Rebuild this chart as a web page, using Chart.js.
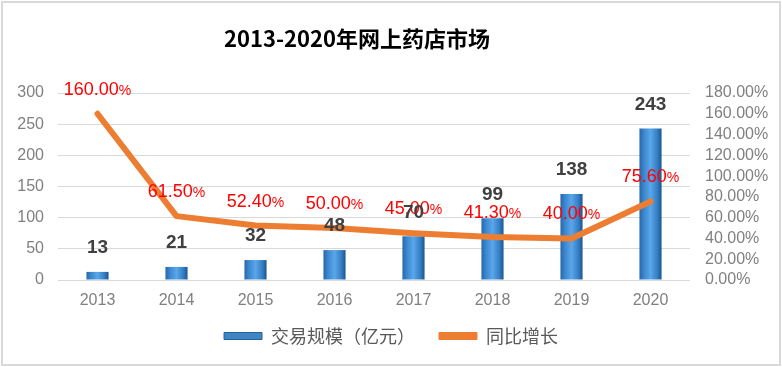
<!DOCTYPE html>
<html>
<head>
<meta charset="utf-8">
<script src="https://cdn.jsdelivr.net/npm/chart.js@4.4.0/dist/chart.umd.min.js"></script>
<style>
html,body{margin:0;padding:0;background:#fff;}
#wrap{position:relative;width:782px;height:367px;}
</style>
</head>
<body>
<div id="wrap"><canvas id="c" width="782" height="367"></canvas></div>
<script>
const TITLE = '2013-2020年网上药店市场';
const years = ['2013','2014','2015','2016','2017','2018','2019','2020'];
const tradeScale = [13, 21, 32, 48, 70, 99, 138, 243];
const yoyGrowth = [160.0, 61.5, 52.4, 50.0, 45.0, 41.3, 40.0, 75.6];
const leftTicks = {min: 0, max: 300, step: 50};
const rightTicks = {min: 0, max: 180, step: 20};
const barName = '交易规模（亿元）';
const lineName = '同比增长';

const CJK = '"Noto Sans CJK SC", "Liberation Sans", sans-serif';
const LAT = '"Liberation Sans", Arial, sans-serif';

function barFill(ctx) {
  const chart = ctx.chart;
  const xs = chart.scales && chart.scales.x;
  if (!xs || ctx.dataIndex === undefined || !chart.chartArea) return '#3b86cc';
  const cx = xs.getPixelForValue(ctx.dataIndex);
  const w = (xs.width / years.length) * 0.28;
  const g = chart.ctx.createLinearGradient(cx - w / 2, 0, cx + w / 2, 0);
  g.addColorStop(0, '#2767a8');
  g.addColorStop(0.2, '#3a87d0');
  g.addColorStop(0.5, '#5aa6e8');
  g.addColorStop(0.8, '#3580c6');
  g.addColorStop(1, '#1c5590');
  return g;
}

const framePlugin = {
  id: 'frame',
  beforeDraw(chart) {
    const c = chart.ctx;
    c.save();
    c.fillStyle = '#fff';
    c.fillRect(0, 0, chart.width, chart.height);
    c.strokeStyle = '#d9d9d9';
    c.lineWidth = 2;
    c.strokeRect(2, 2, chart.width - 4, chart.height - 4);
    c.fillStyle = '#000';
    c.font = 'bold 22px ' + CJK;
    c.textAlign = 'center';
    c.textBaseline = 'middle';
    c.fillText(TITLE, 357, 39);
    c.restore();
  }
};

const labelPlugin = {
  id: 'vlabels',
  afterDatasetsDraw(chart) {
    const c = chart.ctx;
    c.save();
    chart.data.datasets.forEach((ds, di) => {
      const meta = chart.getDatasetMeta(di);
      meta.data.forEach((el, i) => {
        const v = ds.data[i];
        if (ds.type === 'bar') {
          c.font = 'bold 19px ' + LAT;
          c.fillStyle = '#404040';
          c.textAlign = 'center';
          c.textBaseline = 'middle';
          c.fillText(String(v), el.x, el.y - 24);
        } else {
          const num = v.toFixed(2);
          c.textBaseline = 'alphabetic';
          c.font = '18px ' + LAT;
          const w1 = c.measureText(num).width;
          c.font = '14px ' + LAT;
          const w2 = c.measureText('%').width;
          const x0 = el.x - (w1 + w2) / 2;
          const yb = el.y - 19;
          c.fillStyle = '#ff0000';
          c.textAlign = 'left';
          c.font = '18px ' + LAT;
          c.fillText(num, x0, yb);
          c.font = '14px ' + LAT;
          c.fillText('%', x0 + w1, yb);
        }
      });
    });
    c.restore();
  }
};

new Chart(document.getElementById('c'), {
  data: {
    labels: years,
    datasets: [
      {
        type: 'line',
        label: lineName,
        data: yoyGrowth,
        yAxisID: 'y1',
        borderColor: '#ed7d31',
        backgroundColor: '#ed7d31',
        borderWidth: 6,
        borderCapStyle: 'round',
        borderJoinStyle: 'round',
        pointRadius: 0,
        tension: 0
      },
      {
        type: 'bar',
        label: barName,
        data: tradeScale,
        yAxisID: 'y',
        backgroundColor: barFill,
        borderColor: '#2a5f93',
        borderWidth: 0,
        barPercentage: 0.28,
        categoryPercentage: 1.0
      }
    ]
  },
  options: {
    responsive: false,
    animation: false,
    layout: {padding: {top: 93, bottom: 12, left: 0, right: 0}},
    plugins: {
      title: {display: false},
      tooltip: {enabled: false},
      legend: {
        position: 'bottom',
        labels: {
          color: '#595959',
          font: {family: CJK, size: 18},
          boxWidth: 38,
          boxHeight: 7,
          padding: 15,
          generateLabels(chart) {
            return [
              {text: barName + '\u3000', fillStyle: '#3d85c6', strokeStyle: '#2a5f93', lineWidth: 1, datasetIndex: 1, fontColor: '#595959'},
              {text: lineName, fillStyle: '#ed7d31', strokeStyle: '#ed7d31', lineWidth: 1, datasetIndex: 0, fontColor: '#595959'}
            ];
          }
        }
      }
    },
    scales: {
      x: {
        grid: {display: false, drawTicks: false},
        border: {display: false},
        ticks: {color: '#808080', font: {family: LAT, size: 16}, padding: 11},
        afterFit(s) { s.height = 32; }
      },
      y: {
        position: 'left',
        min: leftTicks.min, max: leftTicks.max,
        ticks: {stepSize: leftTicks.step, color: '#808080', font: {family: LAT, size: 16}, padding: 14},
        grid: {color: '#d9d9d9', lineWidth: 1, drawTicks: false},
        border: {display: false},
        afterFit(s) { s.width = 58; }
      },
      y1: {
        position: 'right',
        min: rightTicks.min, max: rightTicks.max,
        ticks: {stepSize: rightTicks.step, autoSkip: false, color: '#808080', font: {family: LAT, size: 16}, padding: 15,
          callback: v => v.toFixed(2) + '%'},
        grid: {display: false, drawTicks: false},
        border: {display: false},
        afterFit(s) { s.width = 92; }
      }
    }
  },
  plugins: [framePlugin, labelPlugin]
});
</script>
</body>
</html>
